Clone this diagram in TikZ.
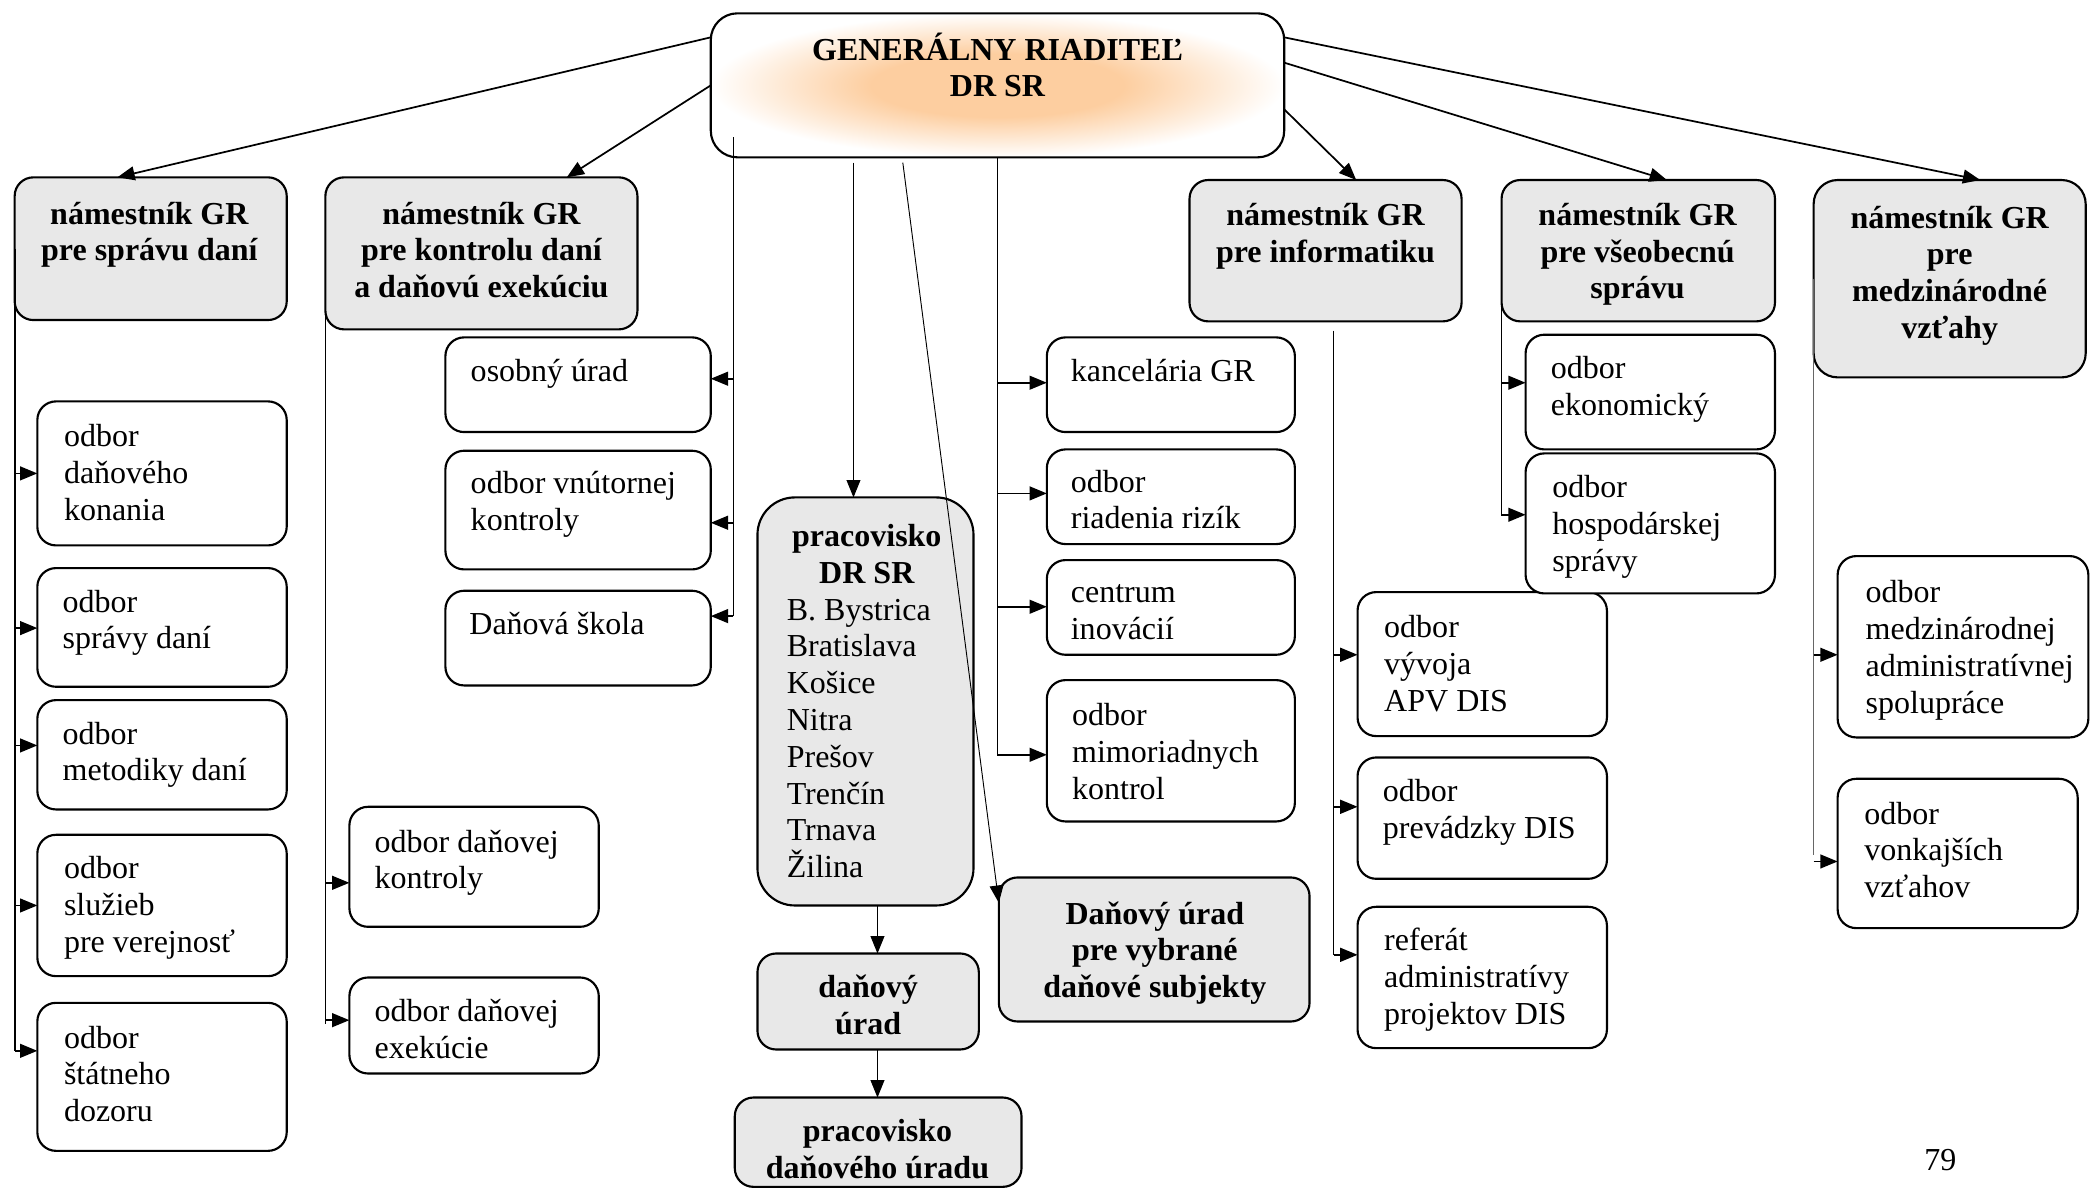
\documentclass[tikz,border=0pt]{standalone}
\usepackage{fontspec}
\setmainfont{Liberation Serif}
\usetikzlibrary{arrows.meta,calc}
\definecolor{pk}{RGB}{253,206,160}
\definecolor{gfill}{RGB}{232,232,232}
\pgfdeclareradialshading{grshade}{\pgfpoint{0bp}{0bp}}{color(0bp)=(pk); color(11bp)=(pk); color(25bp)=(white); color(50bp)=(white)}
\newcommand\putbox[6]{\node[#6,minimum width={(#4-#2)*0.5pt},minimum height={(#5-#3)*0.5pt}] (#1) at ({(#2+#4)/2},{(#3+#5)/2}) {};}
\def\ls{27.6}
\begin{document}
\begin{tikzpicture}[x=0.5pt,y=-0.5pt,font=\fontsize{12pt}{13.8pt}\selectfont,
  wbox/.style={draw,line width=0.8pt,rounded corners=7pt,fill=white,inner sep=0pt,outer sep=0pt},
  gbox/.style={wbox,fill=gfill},
  grbox/.style={draw,line width=0.8pt,rounded corners=10pt,shade,shading=grshade,inner sep=0pt,outer sep=0pt},
  txt/.style={inner sep=0pt,outer sep=0pt,align=left,anchor=base west},
  btxt/.style={inner sep=0pt,outer sep=0pt,align=center,anchor=base,font=\fontsize{12pt}{13.8pt}\selectfont\bfseries},
  arr/.style={line width=0.65pt,-{Triangle[length=6.5pt,width=5.2pt]}},
  tarr/.style={line width=0.35pt,-{Triangle[length=6.5pt,width=5.2pt]}},
  trunk/.style={line width=0.65pt},
  ttrunk/.style={line width=0.4pt},
  gtrunk/.style={line width=0.4pt,black!60}]
\useasboundingbox (0,0) rectangle (1568,892);
% ---------- boxes ----------
\putbox{GR}{533}{10}{963}{118}{grbox}
\putbox{N1}{11}{133}{215}{240}{gbox}
\putbox{N2}{244}{133}{478}{247}{gbox}
\putbox{N3}{892}{135}{1096}{241}{gbox}
\putbox{N4}{1126}{135}{1331}{241}{gbox}
\putbox{N5}{1360}{135}{1564}{283}{gbox,rounded corners=9pt}
\putbox{L1}{28}{301}{215}{409}{wbox}
\putbox{L2}{28}{426}{215}{515}{wbox}
\putbox{L3}{28}{525}{215}{607}{wbox}
\putbox{L4}{28}{626}{215}{732}{wbox}
\putbox{L5}{28}{752}{215}{863}{wbox}
\putbox{K1}{262}{605}{449}{695}{wbox}
\putbox{K2}{262}{733}{449}{805}{wbox}
\putbox{M1}{334}{253}{533}{324}{wbox}
\putbox{M2}{334}{338}{533}{427}{wbox}
\putbox{M3}{334}{443}{533}{514}{wbox}
\putbox{P}{568}{373}{730}{679}{gbox,rounded corners=14pt}
\putbox{DU}{568}{715}{734}{787}{gbox}
\putbox{PDU}{551}{823}{766}{890}{gbox}
\putbox{DV}{749}{658}{982}{766}{gbox}
\putbox{R1}{785}{253}{971}{324}{wbox}
\putbox{R2}{785}{337}{971}{408}{wbox}
\putbox{R3}{785}{420}{971}{491}{wbox}
\putbox{R4}{785}{510}{971}{616}{wbox}
\putbox{I1}{1018}{444}{1205}{552}{wbox}
\putbox{I2}{1018}{568}{1205}{659}{wbox}
\putbox{I3}{1018}{680}{1205}{786}{wbox}
\putbox{V1}{1144}{251}{1331}{337}{wbox}
\putbox{V2}{1144}{340}{1331}{445}{wbox}
\putbox{E1}{1378}{417}{1566}{553}{wbox}
\putbox{E2}{1378}{584}{1558}{696}{wbox}
% ---------- texts (anchor = baseline of the last line) ----------
\node[btxt] (GRt) at (748,{45+\ls}) {GENERÁLNY RIADITEĽ\\DR SR};
\node[btxt] (N1t) at (112,{168+\ls}) {námestník GR\\pre správu daní};
\node[btxt] (N2t) at (361,{168+2*\ls}) {námestník GR\\pre kontrolu daní\\a daňovú exekúciu};
\node[btxt] (N3t) at (994,{169+\ls}) {námestník GR\\pre informatiku};
\node[btxt] (N4t) at (1228,{169+2*\ls}) {námestník GR\\pre všeobecnú\\správu};
\node[btxt] (N5t) at (1462,{171+3*\ls}) {námestník GR\\pre\\medzinárodné\\vzťahy};
\node[txt] (L1t) at (48,{335+2*\ls}) {odbor\\daňového\\konania};
\node[txt] (L2t) at (47,{459+\ls}) {odbor\\správy daní};
\node[txt] (L3t) at (47,{558+\ls}) {odbor\\metodiky daní};
\node[txt] (L4t) at (48,{659+2*\ls}) {odbor\\služieb\\pre verejnosť};
\node[txt] (L5t) at (48,{786+2*\ls}) {odbor\\štátneho\\dozoru};
\node[txt] (K1t) at (281,{639+\ls}) {odbor daňovej\\kontroly};
\node[txt] (K2t) at (281,{766+\ls}) {odbor daňovej\\exekúcie};
\node[txt] (M1t) at (353,286) {osobný úrad};
\node[txt] (M2t) at (353,{370+\ls}) {odbor vnútornej\\kontroly};
\node[txt] (M3t) at (352,476) {Daňová škola};
\node[btxt] (P1t) at (650,{410+\ls}) {pracovisko\\DR SR};
\node[txt] (P2t) at (590,{465+7*\ls}) {B. Bystrica\\Bratislava\\Košice\\Nitra\\Prešov\\Trenčín\\Trnava\\Žilina};
\node[btxt] (DUt) at (651,{748+\ls}) {daňový\\úrad};
\node[btxt] (PDUt) at (658,{856+\ls}) {pracovisko\\daňového úradu};
\node[btxt] (DVt) at (866,{693+2*\ls}) {Daňový úrad\\pre vybrané\\daňové subjekty};
\node[txt] (R1t) at (803,286) {kancelária GR};
\node[txt] (R2t) at (803,{369+\ls}) {odbor\\riadenia rizík};
\node[txt] (R3t) at (803,{452+\ls}) {centrum\\inovácií};
\node[txt] (R4t) at (804,{544+2*\ls}) {odbor\\mimoriadnych\\kontrol};
\node[txt] (I1t) at (1038,{478+2*\ls}) {odbor\\vývoja\\APV DIS};
\node[txt] (I2t) at (1037,{601+\ls}) {odbor\\prevádzky DIS};
\node[txt] (I3t) at (1038,{713+2*\ls}) {referát\\administratívy\\projektov DIS};
\node[txt] (V1t) at (1163,{284+\ls}) {odbor\\ekonomický};
\node[txt] (V2t) at (1164,{373+2*\ls}) {odbor\\hospodárskej\\správy};
\node[txt] (E1t) at (1399,{452+3*\ls}) {odbor\\medzinárodnej\\administratívnej\\spolupráce};
\node[txt] (E2t) at (1398,{618+2*\ls}) {odbor\\vonkajších\\vzťahov};
\node[inner sep=0pt,anchor=base] (pg) at (1455,878) {79};
% ---------- connectors ----------
\draw[arr] (GR.west |- 0,28) -- (N1.north -| 88,0);
\draw[arr] (GR.west |- 0,64) -- (N2.north -| 425,0);
\draw[arr] (GR.east |- 0,82) -- (N3.north -| 1017,0);
\draw[arr] (GR.east |- 0,47) -- (N4.north -| 1250,0);
\draw[arr] (GR.east |- 0,28) -- (N5.north -| 1485,0);
% staff units of GR (left)
\coordinate (t1) at (550,103);
\draw[trunk] (t1) -- (t1 |- 0,462);
\draw[arr] (t1 |- 0,284) -- (M1.east |- 0,284);
\draw[arr] (t1 |- 0,392) -- (M2.east |- 0,392);
\draw[arr] (t1 |- 0,462) -- (M3.east |- 0,462);
% pracovisko and DU pre vybrané subjekty
\coordinate (t2) at (640,122);
\draw[tarr] (t2) -- (P.north -| t2);
\coordinate (t3) at (677,122);
\draw[tarr] (t3) -- (DV.west |- 0,677);
\draw[tarr] (P.south -| 658,0) -- (DU.north -| 658,0);
\draw[tarr] (DU.south -| 658,0) -- (PDU.north -| 658,0);
% staff units of GR (right)
\draw[trunk] (GR.south -| 748,0) -- (748,566);
\draw[arr] (GR.south -| 748,0) |- (R1.west |- 0,287);
\draw[arr] (GR.south -| 748,0) |- (R2.west |- 0,370);
\draw[arr] (GR.south -| 748,0) |- (R3.west |- 0,455);
\draw[arr] (GR.south -| 748,0) |- (R4.west |- 0,566);
% N1
\draw[trunk] (N1.west) -- (N1.west |- 0,788);
\draw[arr] (N1.west |- 0,355) -- (L1.west |- 0,355);
\draw[arr] (N1.west |- 0,471) -- (L2.west |- 0,471);
\draw[arr] (N1.west |- 0,559) -- (L3.west |- 0,559);
\draw[arr] (N1.west |- 0,679) -- (L4.west |- 0,679);
\draw[arr] (N1.west |- 0,788) -- (L5.west |- 0,788);
% N2
\draw[ttrunk] (N2.west) -- (N2.west |- 0,768);
\draw[arr] (N2.west |- 0,662) -- (K1.west |- 0,662);
\draw[arr] (N2.west |- 0,765) -- (K2.west |- 0,765);
% N3
\coordinate (n3s) at (1000,248);
\draw[trunk] (n3s) -- (n3s |- 0,716);
\draw[arr] (n3s |- 0,491) -- (I1.west |- 0,491);
\draw[arr] (n3s |- 0,605) -- (I2.west |- 0,605);
\draw[arr] (n3s |- 0,716) -- (I3.west |- 0,716);
% N4
\draw[ttrunk] (N4.west) -- (N4.west |- 0,387);
\draw[arr] (N4.west |- 0,287) -- (V1.west |- 0,287);
\draw[arr] (N4.west |- 0,386) -- (V2.west |- 0,386);
% N5
\draw[gtrunk] (N5.west) -- (N5.west |- 0,641);
\draw[arr] (N5.west |- 0,491) -- (E1.west |- 0,491);
\draw[arr] (N5.west |- 0,646) -- (E2.west |- 0,646);
\end{tikzpicture}
\end{document}
